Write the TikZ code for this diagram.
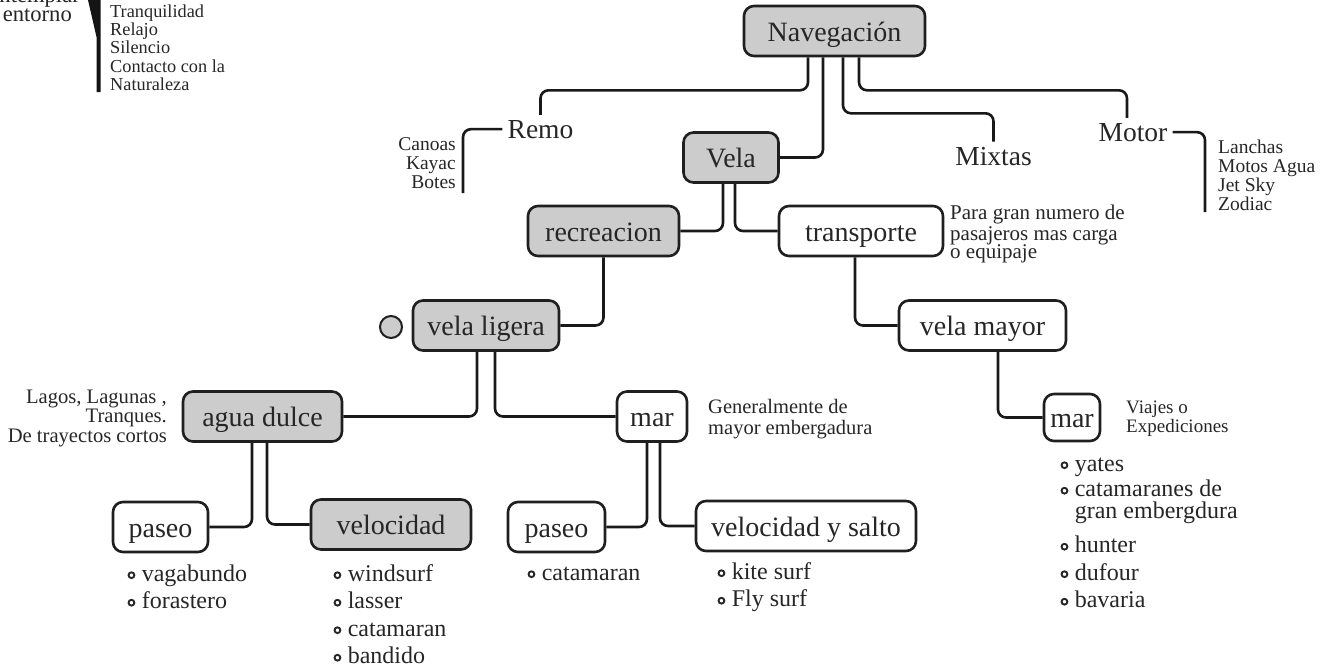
\documentclass[tikz,border=0pt]{standalone}
\usepackage{fontspec}
\setmainfont{Liberation Serif}
\newcommand{\bul}{\tikz[baseline=-6pt]\draw[line width=1.9pt,black!85] (0,0) circle (2.9pt);\hspace{6.5pt}}

\begin{document}
\begin{tikzpicture}[
    x=1pt, y=-1pt,
    box/.style={
      draw=black!88,
      line width=2.6pt,
      rounded corners=10pt,
      fill=white,
      text=black!85,
      font=\fontsize{28}{30}\selectfont,
      inner sep=0pt,
      text height=20pt,
      text depth=0pt,
      minimum height=50pt
    },
    gbox/.style={box, fill=gray!40},
    word/.style={text=black!85, font=\fontsize{27.5}{30}\selectfont, inner sep=5pt},
    note/.style={text=black!85, inner sep=0pt},
    items/.style={text=black!85, font=\fontsize{24}{27.5}\selectfont, inner sep=0pt, align=left, anchor=north west},
    elbow/.style={to path={|- (\tikztotarget)}},
    hook/.style={to path={-| (\tikztotarget)}},
    drop/.style={to path={-- ++(0,#1) -| (\tikztotarget)}},
    every edge/.style={draw=black!90, line width=2.6pt, rounded corners=8pt}
  ]
  \useasboundingbox (0,0) rectangle (1324,670);

  \node[gbox, minimum width=181pt] (nav) at (834.5,31) {Navegación};
  \node[gbox, minimum width=95pt] (vela) at (731,157.5) {Vela};
  \node[gbox, minimum width=151pt] (recre) at (603.5,231) {recreacion};
  \node[box, minimum width=164pt] (transp) at (861,231) {transporte};
  \node[gbox, minimum width=146pt] (ligera) at (486,325.5) {vela ligera};
  \node[box, minimum width=167pt] (mayor) at (982.5,325.5) {vela mayor};
  \node[gbox, minimum width=159pt] (dulce) at (262.5,416.5) {agua dulce};
  \node[box, minimum width=70pt] (marA) at (652,416.5) {mar};
  \node[box, minimum width=56pt, minimum height=47pt] (marB) at (1072,417.5) {mar};
  \node[box, minimum width=95pt] (paseoA) at (160.5,527) {paseo};
  \node[gbox, minimum width=160pt] (veloc) at (391,524.5) {velocidad};
  \node[box, minimum width=97pt] (paseoB) at (556.5,527) {paseo};
  \node[box, minimum width=220pt] (salto) at (806,526) {velocidad y salto};
  \node[circle, draw=black!88, line width=2pt, fill=gray!40, minimum size=22pt, inner sep=0pt] (dot) at (391,327) {};

  \node[word, anchor=base] (remo) at (540.5,138) {Remo};
  \node[word, anchor=base] (mixtas) at (993.5,165) {Mixtas};
  \node[word, anchor=base] (motor) at (1133,141) {Motor};
  \coordinate (remoEnd) at (463,193);
  \coordinate (motorEnd) at (1205,212);

  \node[note, anchor=south east, align=right, font=\fontsize{22.6}{19.5}\selectfont] (ctx) at (80,22)
    {Contemplar\\entorno\hspace*{8pt}};
  \fill[black!92] (88,0) -- (100.5,0) -- (100.5,92) -- (96.5,92) -- (96.5,37) -- cycle;
  \node[note, anchor=north west, align=left, font=\fontsize{18.3}{18.3}\selectfont] (calm) at (110,4.2)
    {\strut Tranquilidad\\Relajo\\Silencio\\Contacto con la\\Naturaleza};
  \node[note, anchor=north east, align=right, font=\fontsize{19.5}{19}\selectfont] (remoList) at (456,136.7)
    {\strut Canoas\\Kayac\\Botes};
  \node[note, anchor=north west, align=left, font=\fontsize{19.5}{19}\selectfont] (motorList) at (1218,139.7)
    {\strut Lanchas\\Motos Agua\\Jet Sky\\Zodiac};
  \node[note, anchor=north west, align=left, font=\fontsize{21}{18.5}\selectfont] (transpNote) at (950,205)
    {\strut Para gran numero de\\pasajeros mas carga\\o equipaje};
  \node[note, anchor=north east, align=right, font=\fontsize{20.6}{19.5}\selectfont] (dulceNote) at (167,389.4)
    {\strut Lagos, Lagunas ,\\Tranques.\\De trayectos cortos};
  \node[note, anchor=north west, align=left, font=\fontsize{20.5}{20}\selectfont] (marANote) at (708,399)
    {\strut Generalmente de\\mayor embergadura};
  \node[note, anchor=north west, align=left, font=\fontsize{19}{19}\selectfont] (marBNote) at (1126,399.7)
    {\strut Viajes o\\Expediciones};

  \node[items] (listA) at (127.4,561.75) {\strut\bul vagabundo\\\bul forastero};
  \node[items] (listB) at (333.4,561.75) {\strut\bul windsurf\\\bul lasser\\\bul catamaran\\\bul bandido};
  \node[items] (listC) at (527.4,560.75) {\strut\bul catamaran};
  \node[items] (listD) at (717.4,559.75) {\strut\bul kite surf\\\bul Fly surf};
  \node[items] (listE) at (1060.4,451.75)
    {\strut\bul yates\\[-2pt]\bul catamaranes de\\[-6pt]\hphantom{\bul}gran embergdura\\[7pt]\bul hunter\\\bul dufour\\\bul bavaria};

  \path ([xshift=-26.5pt]nav.south) edge[drop=33] (remo.north)
        ([xshift=-11.5pt]nav.south) edge[elbow] (vela.east)
        ([xshift=8.5pt]nav.south) edge[drop=56] (mixtas.north)
        ([xshift=24.5pt]nav.south) edge[drop=33] ([xshift=-6pt]motor.north);
  \path (remo.west) edge[hook] (remoEnd)
        (motor.east) edge[hook] (motorEnd);
  \path ([xshift=-8pt]vela.south) edge[elbow] (recre.east)
        ([xshift=4pt]vela.south) edge[elbow] (transp.west)
        (recre.south) edge[elbow] (ligera.east)
        ([xshift=-6pt]transp.south) edge[elbow] (mayor.west)
        ([xshift=15.5pt]mayor.south) edge[elbow] (marB.west);
  \path ([xshift=-9pt]ligera.south) edge[elbow] (dulce.east)
        ([xshift=9pt]ligera.south) edge[elbow] (marA.west)
        ([xshift=-10.5pt]dulce.south) edge[elbow] (paseoA.east)
        ([xshift=4.5pt]dulce.south) edge[elbow] (veloc.west)
        ([xshift=-5pt]marA.south) edge[elbow] (paseoB.east)
        ([xshift=8pt]marA.south) edge[elbow] (salto.west);
\end{tikzpicture}
\end{document}
